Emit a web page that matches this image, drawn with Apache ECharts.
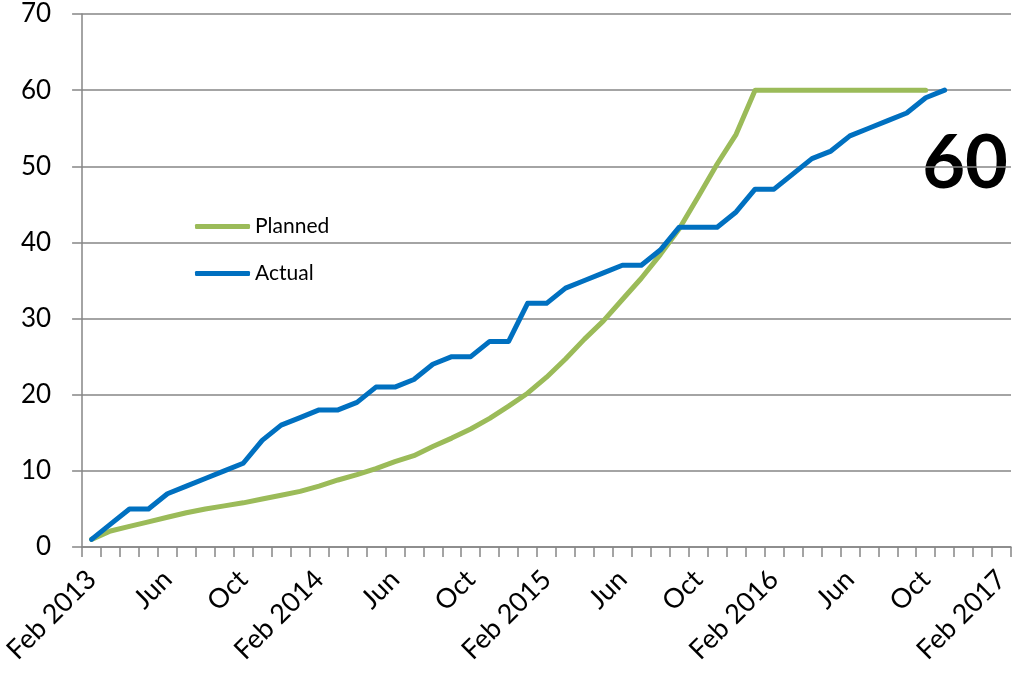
<!DOCTYPE html>
<html>
<head>
<meta charset="utf-8">
<script src="https://cdn.jsdelivr.net/npm/echarts@6/dist/echarts.min.js"></script>
<style>
    html, body {margin: 0; padding: 0; background: #fff;}
    #chart {width: 1018px; height: 677px;}
</style>
</head>
<body>
<div id="chart"></div>
<script>
var months = ['Feb 2013', 'Mar', 'Apr', 'May', 'Jun', 'Jul', 'Aug', 'Sep', 'Oct', 'Nov', 'Dec', 'Jan',
    'Feb 2014', 'Mar', 'Apr', 'May', 'Jun', 'Jul', 'Aug', 'Sep', 'Oct', 'Nov', 'Dec', 'Jan',
    'Feb 2015', 'Mar', 'Apr', 'May', 'Jun', 'Jul', 'Aug', 'Sep', 'Oct', 'Nov', 'Dec', 'Jan',
    'Feb 2016', 'Mar', 'Apr', 'May', 'Jun', 'Jul', 'Aug', 'Sep', 'Oct', 'Nov', 'Dec', 'Jan',
    'Feb 2017'];

var planned = [1, 2.1, 2.7, 3.3, 3.9, 4.5, 5.0, 5.4, 5.8, 6.3, 6.8, 7.3, 8.0, 8.8, 9.5, 10.3,
    11.2, 12.0, 13.2, 14.3, 15.5, 16.9, 18.5, 20.2, 22.3, 24.7, 27.3, 29.7, 32.5, 35.3,
    38.4, 41.8, 46, 50.3, 54.2, 60, 60, 60, 60, 60, 60, 60, 60, 60, 60];

var actual = [1, 3, 5, 5, 7, 8, 9, 10, 11, 14, 16, 17, 18, 18, 19, 21, 21, 22, 24, 25,
    25, 27, 27, 32, 32, 34, 35, 36, 37, 37, 39, 42, 42, 42, 44, 47, 47, 49, 51, 52,
    54, 55, 56, 57, 59, 60];

var yTicks = [0, 10, 20, 30, 40, 50, 60, 70];
var bigNumber = '60';

var font = 'Lato, "Open Sans", sans-serif';
var gray = '#868686';

var myChart = echarts.init(document.getElementById('chart'));
var option = {
    backgroundColor: '#fff',
    animation: false,
    grid: {left: 81, right: 7, top: 14, bottom: 130},
    legend: {
        orient: 'vertical',
        left: 190,
        top: 211,
        icon: 'roundRect',
        itemWidth: 55,
        itemHeight: 5,
        itemGap: 26,
        textStyle: {fontFamily: font, fontSize: 21, color: '#000'},
        data: ['Planned', 'Actual']
    },
    xAxis: {
        type: 'category',
        data: months,
        boundaryGap: true,
        axisLine: {lineStyle: {color: gray, width: 1.5}},
        axisTick: {show: true, interval: 0, length: 10, lineStyle: {color: gray, width: 1.5}},
        axisLabel: {
            interval: 3,
            rotate: 45,
            margin: 28,
            fontFamily: font,
            fontSize: 27,
            color: '#000'
        },
        splitLine: {show: false}
    },
    yAxis: {
        type: 'value',
        min: yTicks[0],
        max: yTicks[yTicks.length - 1],
        interval: 10,
        axisLine: {show: true, lineStyle: {color: gray, width: 1.5}},
        axisTick: {show: true, length: 10, lineStyle: {color: gray, width: 1.5}},
        axisLabel: {margin: 31, fontFamily: font, fontSize: 26, color: '#000'},
        splitLine: {lineStyle: {color: gray, width: 1.5}}
    },
    graphic: [{
        type: 'text',
        right: 10,
        top: 127,
        style: {
            text: bigNumber,
            fontFamily: font,
            fontSize: 74,
            fontWeight: 'bold',
            fill: '#000'
        }
    }],
    series: [
        {
            name: 'Planned',
            type: 'line',
            data: planned,
            symbol: 'none',
            itemStyle: {color: '#9BBB59'},
            lineStyle: {color: '#9BBB59', width: 5, cap: 'round', join: 'round'}
        },
        {
            name: 'Actual',
            type: 'line',
            data: actual,
            symbol: 'none',
            itemStyle: {color: '#0070C0'},
            lineStyle: {color: '#0070C0', width: 5, cap: 'round', join: 'round'}
        }
    ]
};

myChart.setOption(option);
</script>
</body>
</html>
